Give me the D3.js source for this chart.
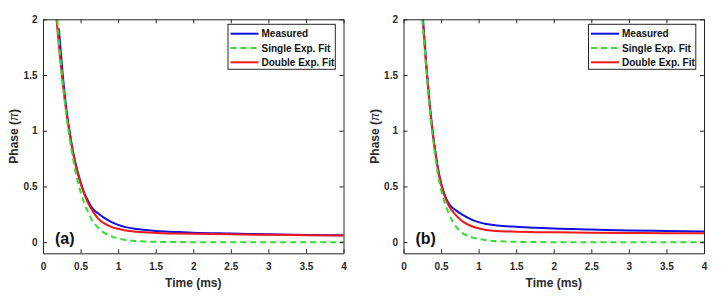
<!DOCTYPE html>
<html><head><meta charset="utf-8">
<script src="https://cdn.jsdelivr.net/npm/d3@7/dist/d3.min.js"></script>
<style>body{margin:0;background:#fff}svg{display:block}</style>
</head><body>
<svg id="c" width="722" height="299"></svg>
<script>
// ---- data ----
const xTicks = [0, 0.5, 1, 1.5, 2, 2.5, 3, 3.5, 4];
const yTicks = [0, 0.5, 1, 1.5, 2];
const seriesNames = ["Measured", "Single Exp. Fit", "Double Exp. Fit"];
const panelLabels = ["(a)", "(b)"];

// Panel (a)
const aMeasT = [0.21,0.22,0.26,0.30,0.35,0.40,0.45,0.50,0.55,0.60,0.65,0.70,0.75,0.80,0.90,1.00,1.10,1.25,1.50,1.75,2.00,2.50,3.00,3.50,4.00];
const aMeasP = [1.92,1.84,1.52,1.26,1.01,0.81,0.66,0.54,0.44,0.37,0.31,0.275,0.25,0.225,0.185,0.155,0.135,0.118,0.10,0.092,0.085,0.077,0.07,0.065,0.062];
const aSingT = [0.19,0.22,0.26,0.30,0.35,0.40,0.45,0.50,0.55,0.60,0.65,0.70,0.75,0.80,0.90,1.00,1.10,1.20,1.35,1.50,1.75,2.00,3.00,4.00];
const aSingP = [2.00,1.74,1.45,1.20,0.95,0.75,0.58,0.45,0.35,0.27,0.20,0.155,0.12,0.09,0.055,0.033,0.02,0.012,0.006,0.003,0.001,0,0,0];
const aDoubT = [0.18,0.22,0.26,0.30,0.35,0.40,0.45,0.50,0.55,0.60,0.65,0.70,0.75,0.80,0.90,1.00,1.10,1.25,1.50,1.75,2.00,2.50,3.00,3.50,4.00];
const aDoubP = [2.00,1.70,1.44,1.22,0.99,0.80,0.65,0.53,0.43,0.35,0.29,0.24,0.20,0.175,0.14,0.12,0.105,0.093,0.083,0.078,0.075,0.07,0.066,0.063,0.06];

// Panel (b)
const bMeasT = [0.26,0.30,0.34,0.38,0.42,0.46,0.50,0.55,0.60,0.65,0.70,0.75,0.80,0.90,1.00,1.10,1.25,1.50,1.75,2.00,2.50,3.00,3.50,4.00];
const bMeasP = [2.00,1.62,1.30,1.04,0.83,0.66,0.53,0.42,0.35,0.31,0.285,0.26,0.24,0.205,0.18,0.163,0.15,0.138,0.13,0.122,0.113,0.105,0.10,0.095];
const bSingT = [0.25,0.30,0.34,0.38,0.42,0.46,0.50,0.55,0.60,0.65,0.70,0.75,0.80,0.90,1.00,1.10,1.25,1.50,1.75,2.00,3.00,4.00];
const bSingP = [2.00,1.58,1.26,1.00,0.78,0.60,0.47,0.35,0.26,0.19,0.14,0.10,0.075,0.045,0.03,0.018,0.009,0.003,0.001,0,0,0];
const bDoubT = [0.255,0.30,0.34,0.38,0.42,0.46,0.50,0.55,0.60,0.65,0.70,0.75,0.80,0.90,1.00,1.10,1.25,1.50,1.75,2.00,2.50,3.00,3.50,4.00];
const bDoubP = [2.00,1.60,1.29,1.03,0.82,0.65,0.52,0.41,0.33,0.28,0.24,0.205,0.18,0.145,0.125,0.11,0.10,0.094,0.09,0.088,0.085,0.083,0.081,0.08];

// ---- drawing ----
const colors = ["#1010e0", "#30e030", "#f01818"];
const dashes = [null, "6,4", null];
const svg = d3.select("#c");
const font = "'Liberation Sans', Arial, sans-serif";
const textCol = "#2a2a2a";

const panels = [
  {left: 43, series: [[aMeasT, aMeasP], [aSingT, aSingP], [aDoubT, aDoubP]]},
  {left: 403.5, series: [[bMeasT, bMeasP], [bSingT, bSingP], [bDoubT, bDoubP]]}
];
const W = 300.5, plotTop = 19.3, plotBottom = 253.3;

panels.forEach((p, pi) => {
  const x = d3.scaleLinear().domain([0, 4]).range([p.left, p.left + W]);
  const y = d3.scaleLinear().domain([-0.1, 2]).range([plotBottom, plotTop]);
  const g = svg.append("g");
  const cid = "clip" + pi;
  g.append("clipPath").attr("id", cid).append("rect")
    .attr("x", p.left).attr("y", plotTop).attr("width", W).attr("height", plotBottom - plotTop);

  // curves
  const line = d3.line().x(d => x(d[0])).y(d => y(d[1])).curve(d3.curveMonotoneX);
  [0, 2, 1].forEach(si => {
    const [T, P] = p.series[si];
    const pts = T.map((t, i) => [t, P[i]]);
    g.append("path").attr("d", line(pts)).attr("fill", "none")
      .attr("stroke", colors[si]).attr("stroke-width", 2)
      .attr("stroke-dasharray", dashes[si]).attr("clip-path", `url(#${cid})`);
  });

  // axes (inward ticks, box)
  const axStyle = sel => {
    sel.select(".domain").attr("stroke", "#262626");
    sel.selectAll(".tick line").attr("stroke", "#262626");
    sel.selectAll("text").attr("fill", textCol).attr("font-family", font)
      .attr("font-weight", "bold").attr("font-size", 10);
  };
  g.append("g").attr("transform", `translate(0,${plotBottom})`)
    .call(d3.axisBottom(x).tickValues(xTicks).tickSizeInner(-4).tickSizeOuter(0).tickPadding(10)
      .tickFormat(d3.format("~g"))).call(axStyle);
  g.append("g").attr("transform", `translate(0,${plotTop})`)
    .call(d3.axisTop(x).tickValues(xTicks).tickSizeInner(-4).tickSizeOuter(0).tickFormat(""))
    .call(axStyle);
  g.append("g").attr("transform", `translate(${p.left},0)`)
    .call(d3.axisLeft(y).tickValues(yTicks).tickSizeInner(-4).tickSizeOuter(0).tickPadding(5.5)
      .tickFormat(d3.format("~g"))).call(axStyle);
  g.append("g").attr("transform", `translate(${p.left + W},0)`)
    .call(d3.axisRight(y).tickValues(yTicks).tickSizeInner(-4).tickSizeOuter(0).tickFormat(""))
    .call(axStyle);

  // axis labels
  g.append("text").attr("x", p.left + W / 2).attr("y", 286.5).attr("text-anchor", "middle")
    .attr("font-family", font).attr("font-weight", "bold").attr("font-size", 12).attr("fill", textCol)
    .text("Time (ms)");
  const yl = g.append("text").attr("transform", `translate(${p.left - 25},${(plotTop + plotBottom) / 2}) rotate(-90)`)
    .attr("text-anchor", "middle").attr("font-family", font).attr("font-weight", "bold")
    .attr("font-size", 12).attr("fill", textCol);
  yl.append("tspan").text("Phase (");
  yl.append("tspan").attr("font-style", "italic").attr("font-weight", "normal").text("\u03c0");
  yl.append("tspan").text(")");

  // panel label
  g.append("text").attr("x", p.left + 12).attr("y", 243.5)
    .attr("font-family", font).attr("font-weight", "bold").attr("font-size", 16).attr("fill", "#111")
    .text(panelLabels[pi]);

  // legend
  const lx = p.left + W - 115.5, ly = 24.3;
  const lg = g.append("g");
  lg.append("rect").attr("x", lx).attr("y", ly).attr("width", 107.3).attr("height", 45)
    .attr("fill", "#fff").attr("stroke", "#262626").attr("stroke-width", 1);
  seriesNames.forEach((name, si) => {
    const ry = ly + 9.4 + si * 14.3;
    lg.append("line").attr("x1", lx + 2.5).attr("x2", lx + 30.5).attr("y1", ry).attr("y2", ry)
      .attr("stroke", colors[si]).attr("stroke-width", 2).attr("stroke-dasharray", dashes[si]);
    lg.append("text").attr("x", lx + 33.5).attr("y", ry + 3.6)
      .attr("font-family", font).attr("font-weight", "bold").attr("font-size", 10).attr("fill", "#111")
      .text(name);
  });
});
</script>
</body></html>
